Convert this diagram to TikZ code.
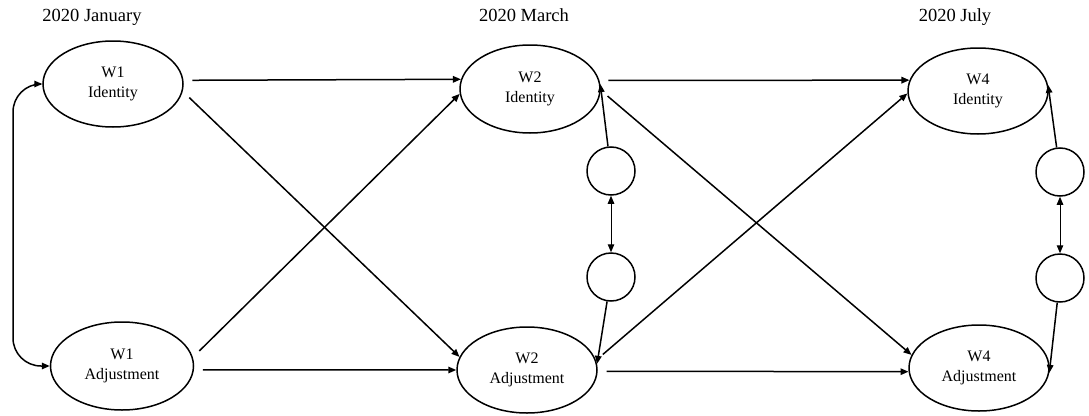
\documentclass[tikz,border=0pt]{standalone}
\usepackage{fontspec}
\setmainfont{Liberation Serif}
\usetikzlibrary{shapes.geometric,arrows.meta}
\begin{document}
\begin{tikzpicture}[x=1pt,y=-1pt,
  var/.style={ellipse, draw, line width=1.5pt, minimum width=140pt, minimum height=86pt, inner sep=0pt, align=center, font=\fontsize{16}{20}\selectfont},
  res/.style={circle, draw, line width=1.5pt, minimum size=48pt, inner sep=0pt},
  ttl/.style={font=\fontsize{18.5}{22}\selectfont, anchor=base},
  eff/.style={-{Triangle[length=8pt,width=6.5pt]}, line width=1.5pt},
  regr/.style={eff, shorten <=9pt},
  cov/.style={{Triangle[length=8pt,width=6.5pt]}-{Triangle[length=8pt,width=6.5pt]}, line width=1pt}]
\useasboundingbox (0,0) rectangle (1089,415);

\node[ttl] (t1) at (92,21) {2020 January};
\node[ttl] (t2) at (524,21) {2020 March};
\node[ttl] (t3) at (955,21) {2020 July};

\node[var] (w1i) at (113,84) {W1\\Identity};
\node[var, minimum width=143pt, minimum height=88pt] (w1a) at (122,366) {W1\\Adjustment};
\node[var, minimum height=88pt] (w2i) at (530,89) {W2\\Identity};
\node[var] (w2a) at (527,370) {W2\\Adjustment};
\node[var] (w4i) at (978,91) {W4\\Identity};
\node[var] (w4a) at (979,368) {W4\\Adjustment};

\node[res] (c1) at (611,171) {};
\node[res] (c2) at (611,277) {};
\node[res] (c3) at (1060,172) {};
\node[res] (c4) at (1060,278) {};

% left covariance
\coordinate (lc) at (13,225);
\draw[cov, line width=1.5pt, rounded corners=28pt] (w1i.west) -| (lc) |- (w1a.west);

% wave 1 -> wave 2
\draw[regr] (w1i.3.3) -- (w2i.172.5);
\draw[regr] (w1i.-6.5) -- (w2a.169);
\draw[regr] (w1a.7.3) -- (w2i.-176);
\draw[regr] (w1a.-3.3) -- (w2a.180);

% wave 2 -> wave 4
\draw[regr] (w2i.7.5) -- (w4i.171);
\draw[regr] (w2i.-1) -- (w4a.169.6);
\draw[regr] (w2a.8) -- (w4i.-178);
\draw[regr] (w2a.-1.6) -- (w4a.-177);

% residuals
\draw[eff] (c1) -- (w2i.4);
\draw[eff] (c2) -- (w2a.5);
\draw[cov] (c1) -- (c2);
\draw[eff] (c3) -- (w4i.5);
\draw[eff] (c4) -- (w4a.-4);
\draw[cov] (c3) -- (c4);
\end{tikzpicture}
\end{document}
